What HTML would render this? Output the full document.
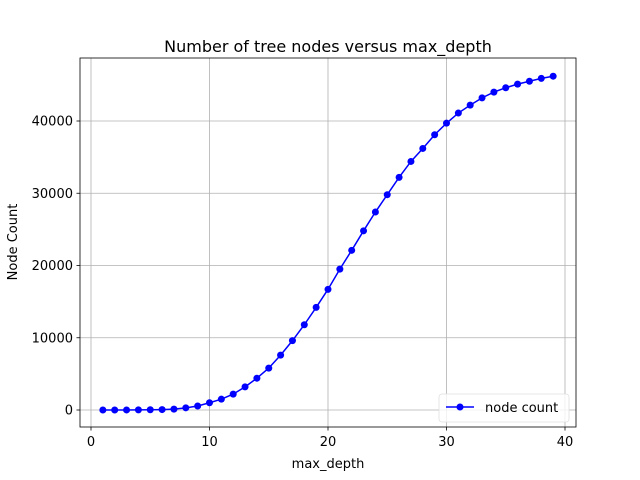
<!DOCTYPE html>
<html><head><meta charset="utf-8"><style>body{margin:0;background:#fff}svg{display:block;font-family:"DejaVu Sans","Liberation Sans",sans-serif}</style></head>
<body>
<svg id="chart" width="640" height="480">
<rect x="0" y="0" width="640" height="480" fill="#fff"/>
<g id="grid"></g>
<g id="ticks"></g>
<path id="line" fill="none" stroke="#0000ff" stroke-width="1.5"/>
<g id="pts"></g>
<rect x="80" y="58" width="496" height="369" fill="none" stroke="#000" stroke-width="0.8"/>
<text x="328" y="52" text-anchor="middle" font-size="16">Number of tree nodes versus max_depth</text>
<text x="328" y="468" text-anchor="middle" font-size="13">max_depth</text>
<text x="17" y="242" text-anchor="middle" font-size="13" transform="rotate(-90 17 242)">Node Count</text>
<g>
<rect x="439" y="394" width="130" height="28" rx="3" fill="#fff" fill-opacity="0.8" stroke="#e0e0e0" stroke-width="0.8"/>
<line x1="446" y1="407" x2="474" y2="407" stroke="#0000ff" stroke-width="1.5"/>
<circle cx="460" cy="407" r="3.5" fill="#0000ff"/>
<text x="485" y="412" font-size="13">node count</text>
</g>
</svg>
<script>
const depths=[1,2,3,4,5,6,7,8,9,10,11,12,13,14,15,16,17,18,19,20,21,22,23,24,25,26,27,28,29,30,31,32,33,34,35,36,37,38,39];
const counts=[1,3,7,15,31,60,120,300,550,1000,1500,2200,3200,4400,5800,7600,9600,11800,14200,16700,19500,22100,24800,27400,29800,32200,34400,36200,38100,39700,41100,42200,43200,44000,44600,45100,45500,45900,46200];
const xTicks=[0,10,20,30,40];
const yTicks=[0,10000,20000,30000,40000];
const NS='http://www.w3.org/2000/svg';
function X(v){return 91+v*11.85;}
function Y(v){return 410-v*0.007225;}
function mk(t,a,p){const e=document.createElementNS(NS,t);for(const k in a)e.setAttribute(k,a[k]);p.appendChild(e);return e;}
const g=document.getElementById('grid'),tk=document.getElementById('ticks');
xTicks.forEach(v=>{
 const l=mk('line',{x1:X(v),x2:X(v),y1:58,y2:427,stroke:'#b0b0b0','stroke-width':0.8},g);
 
 
 mk('line',{x1:X(v),x2:X(v),y1:427,y2:430.5,stroke:'#000','stroke-width':0.8},tk);
 const t=mk('text',{x:X(v),y:446,'text-anchor':'middle','font-size':13},tk);t.textContent=v;
 
 
});
yTicks.forEach(v=>{
 const l=mk('line',{x1:80,x2:576,y1:Y(v),y2:Y(v),stroke:'#b0b0b0','stroke-width':0.8},g);
 
 
 mk('line',{x1:76.5,x2:80,y1:Y(v),y2:Y(v),stroke:'#000','stroke-width':0.8},tk);
 const t=mk('text',{x:73,y:Y(v)+4.5,'text-anchor':'end','font-size':13},tk);t.textContent=v;
 
 
});
document.getElementById('line').setAttribute('d',depths.map((d,i)=>(i?'L':'M')+X(d)+' '+Y(counts[i])).join(''));
const pg=document.getElementById('pts');
depths.forEach((d,i)=>{
 const c=mk('circle',{cx:X(d),cy:Y(counts[i]),r:3.5,fill:'#0000ff'},pg);
 
 
});
</script>
</body></html>
